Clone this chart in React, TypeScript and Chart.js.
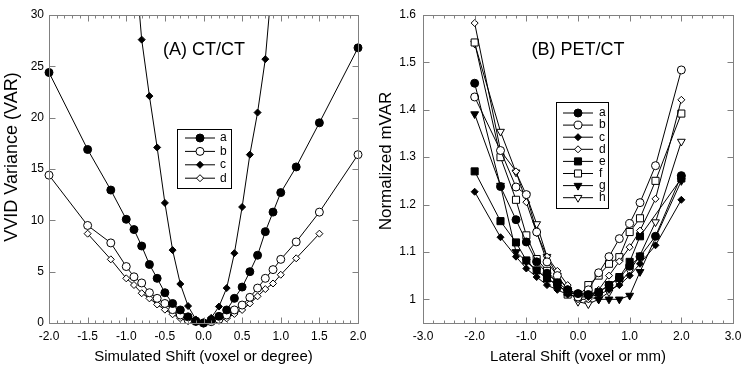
import React, { useEffect, useRef } from 'react';
import { Chart, registerables } from 'chart.js';
import { drawPoint } from 'chart.js/helpers';

Chart.register(...registerables);

const FONT = "'Liberation Sans', Arial, Helvetica, sans-serif";
const FRAME = '#808080';

// ---------- Panel A : CT/CT ----------
const A_X_TICKS = [-2, -1.5, -1, -0.5, 0, 0.5, 1, 1.5, 2];
const A_X_LABELS = ['-2.0', '-1.5', '-1.0', '-0.5', '0.0', '0.5', '1.0', '1.5', '2.0'];
const A_Y_TICKS = [0, 5, 10, 15, 20, 25, 30];
const A_Y_LABELS = ['0', '5', '10', '15', '20', '25', '30'];

const A_X_AB = [-2, -1.5, -1.2, -1, -0.9, -0.8, -0.7, -0.6, -0.5, -0.4, -0.3, -0.2, -0.1, 0, 0.1, 0.2, 0.3, 0.4, 0.5, 0.6, 0.7, 0.8, 0.9, 1, 1.2, 1.5, 2];
const A_A = [24.4, 16.9, 12.95, 10.1, 9.1, 7.5, 5.7, 4.35, 2.95, 1.9, 1.27, 0.6, 0.2, 0, 0.3, 0.65, 1.27, 2.4, 3.5, 5.0, 6.6, 8.9, 10.8, 12.7, 15.2, 19.5, 26.8];
const A_B = [14.4, 9.5, 7.8, 5.5, 4.5, 3.9, 2.95, 2.4, 1.9, 1.3, 0.78, 0.3, 0.15, 0, 0.13, 0.35, 0.78, 1.27, 1.75, 2.5, 3.4, 4.35, 5.2, 6.2, 7.9, 10.8, 16.4];
const A_X_C = [-0.9, -0.8, -0.7, -0.6, -0.5, -0.4, -0.3, -0.2, -0.1, 0, 0.1, 0.2, 0.3, 0.4, 0.5, 0.6, 0.7, 0.8, 0.9];
const A_C = [36.5, 27.6, 22.1, 17.1, 11.7, 7.1, 3.8, 1.65, 0.35, 0, 0.5, 1.6, 3.4, 6.8, 11.3, 16.4, 20.5, 25.7, 34.3];
const A_X_D = [-1.5, -1.2, -1, -0.9, -0.8, -0.7, -0.6, -0.5, -0.4, -0.3, -0.2, -0.1, 0, 0.1, 0.2, 0.3, 0.4, 0.5, 0.6, 0.7, 0.8, 0.9, 1, 1.2, 1.5];
const A_D = [8.7, 6.2, 4.35, 3.7, 2.9, 2.4, 1.8, 1.3, 0.85, 0.45, 0.2, 0.08, 0, 0.08, 0.22, 0.45, 0.88, 1.27, 1.9, 2.6, 3.3, 3.85, 4.7, 6.3, 8.7];

// ---------- Panel B : PET/CT ----------
const B_X_TICKS = [-3, -2, -1, 0, 1, 2, 3];
const B_X_LABELS = ['-3.0', '-2.0', '-1.0', '0.0', '1.0', '2.0', '3.0'];
const B_Y_TICKS = [1, 1.1, 1.2, 1.3, 1.4, 1.5, 1.6];
const B_Y_LABELS = ['1', '1.1', '1.2', '1.3', '1.4', '1.5', '1.6'];

const B_X = [-2, -1.5, -1.2, -1, -0.8, -0.6, -0.4, -0.2, 0, 0.2, 0.4, 0.6, 0.8, 1, 1.2, 1.5, 2];
const B_A = [1.456, 1.238, 1.168, 1.121, 1.079, 1.055, 1.035, 1.02, 1.012, 1.01, 1.015, 1.03, 1.045, 1.07, 1.09, 1.133, 1.261];
const B_B = [1.427, 1.314, 1.237, 1.221, 1.142, 1.079, 1.05, 1.02, 1.005, 1.02, 1.056, 1.09, 1.128, 1.16, 1.204, 1.282, 1.484];
const B_C = [1.227, 1.131, 1.09, 1.065, 1.047, 1.03, 1.02, 1.01, 1.005, 1.005, 1.01, 1.02, 1.03, 1.05, 1.075, 1.114, 1.21];
const B_D = [1.583, 1.314, 1.27, 1.205, 1.14, 1.09, 1.06, 1.03, 1.0, 1.0, 1.02, 1.05, 1.08, 1.11, 1.145, 1.212, 1.421];
const B_E = [1.27, 1.165, 1.12, 1.082, 1.061, 1.044, 1.03, 1.015, 1.01, 1.012, 1.015, 1.03, 1.047, 1.079, 1.133, null, 1.255];
const B_F = [1.542, 1.30, 1.21, 1.135, 1.085, 1.06, 1.035, 1.01, 1.005, 1.03, 1.05, 1.075, 1.089, 1.142, 1.171, 1.25, 1.392];
const B_G = [1.391, 1.24, 1.10, 1.08, 1.06, 1.045, 1.03, 1.015, 1.01, 1.005, 1.0, 1.0, 1.0, 1.008, 1.058, null, 1.25];
const B_H = [1.54, 1.354, 1.268, 1.22, 1.159, 1.09, 1.05, 1.02, 0.995, 0.99, 1.0, 1.015, 1.033, 1.06, 1.093, 1.163, 1.333];

type Series = {
  label: string;
  xs: number[];
  ys: (number | null)[];
  style: string;
  radius: number;
  filled: boolean;
  rotation?: number;
};

type PanelSpec = {
  xMin: number; xMax: number; yMin: number; yMax: number;
  xTicks: number[]; xLabels: string[]; yTicks: number[]; yLabels: string[];
  xMinorStep: number | null;
  xTitle: string; yTitle: string; panelTitle: string; titleX: number; titleY: number;
  yTitleX: number; yTitleY: number; yTitleSize: number;
  yAxisWidth: number; xAxisHeight: number; padRight: number; padTop: number;
  yTickPad: number; xTickPad: number; xTitlePad: number;
  series: Series[];
  legend: { box: [number, number, number, number]; y0: number; dy: number; x1: number; x2: number; xm: number; xt: number };
};

const SPEC_A: PanelSpec = {
  xMin: -2, xMax: 2, yMin: 0, yMax: 30,
  xTicks: A_X_TICKS, xLabels: A_X_LABELS, yTicks: A_Y_TICKS, yLabels: A_Y_LABELS,
  xMinorStep: 0.1,
  xTitle: 'Simulated Shift (voxel or degree)', yTitle: 'VVID Variance (VAR)',
  panelTitle: '(A) CT/CT', titleX: 204, titleY: 50,
  yTitleX: 12, yTitleY: 157, yTitleSize: 18,
  yAxisWidth: 49, xAxisHeight: 52, padRight: 17, padTop: 15,
  yTickPad: 5, xTickPad: 6, xTitlePad: 9,
  series: [
    { label: 'a', xs: A_X_AB, ys: A_A, style: 'circle', radius: 4, filled: true },
    { label: 'b', xs: A_X_AB, ys: A_B, style: 'circle', radius: 4, filled: false },
    { label: 'c', xs: A_X_C, ys: A_C, style: 'rectRot', radius: 3.5, filled: true },
    { label: 'd', xs: A_X_D, ys: A_D, style: 'rectRot', radius: 3.5, filled: false },
  ],
  legend: { box: [177, 129, 231, 188], y0: 138, dy: 13.4, x1: 185, x2: 215, xm: 200, xt: 220 },
};

const SPEC_B: PanelSpec = {
  xMin: -3, xMax: 3, yMin: 0.95, yMax: 1.6,
  xTicks: B_X_TICKS, xLabels: B_X_LABELS, yTicks: B_Y_TICKS, yLabels: B_Y_LABELS,
  xMinorStep: 0.2,
  xTitle: 'Lateral Shift (voxel or mm)', yTitle: 'Normalized mVAR',
  panelTitle: '(B) PET/CT', titleX: 203, titleY: 50,
  yTitleX: 11, yTitleY: 161, yTitleSize: 17,
  yAxisWidth: 48, xAxisHeight: 52, padRight: 17, padTop: 15,
  yTickPad: 7, xTickPad: 6, xTitlePad: 9,
  series: [
    { label: 'a', xs: B_X, ys: B_A, style: 'circle', radius: 4, filled: true },
    { label: 'b', xs: B_X, ys: B_B, style: 'circle', radius: 4, filled: false },
    { label: 'c', xs: B_X, ys: B_C, style: 'rectRot', radius: 3.5, filled: true },
    { label: 'd', xs: B_X, ys: B_D, style: 'rectRot', radius: 3.5, filled: false },
    { label: 'e', xs: B_X, ys: B_E, style: 'rect', radius: 5, filled: true },
    { label: 'f', xs: B_X, ys: B_F, style: 'rect', radius: 5, filled: false },
    { label: 'g', xs: B_X, ys: B_G, style: 'triangle', radius: 4.5, filled: true, rotation: 180 },
    { label: 'h', xs: B_X, ys: B_H, style: 'triangle', radius: 4.5, filled: false, rotation: 180 },
  ],
  legend: { box: [181, 102, 233, 208], y0: 113, dy: 12.1, x1: 188, x2: 218, xm: 203, xt: 224 },
};

function decorPlugin(spec: PanelSpec) {
  return {
    id: 'decor',
    afterDraw(chart: any) {
      const { ctx, chartArea } = chart;
      const xs = chart.scales.x;
      const ys = chart.scales.y;
      const L = Math.round(chartArea.left) + 0.5;
      const R = Math.round(chartArea.right) + 0.5;
      const T = Math.round(chartArea.top) + 0.5;
      const B = Math.round(chartArea.bottom) + 0.5;
      ctx.save();
      ctx.strokeStyle = FRAME;
      ctx.lineWidth = 1;
      ctx.strokeRect(L, T, R - L, B - T);
      ctx.beginPath();
      const MAJ = 6;
      const MIN = 3;
      for (const v of spec.xTicks) {
        const p = Math.round(xs.getPixelForValue(v)) + 0.5;
        ctx.moveTo(p, B); ctx.lineTo(p, B - MAJ);
        ctx.moveTo(p, T); ctx.lineTo(p, T + MAJ);
      }
      if (spec.xMinorStep) {
        const n = Math.round((spec.xMax - spec.xMin) / spec.xMinorStep);
        for (let i = 1; i < n; i++) {
          const v = spec.xMin + i * spec.xMinorStep;
          const p = Math.round(xs.getPixelForValue(v)) + 0.5;
          ctx.moveTo(p, B); ctx.lineTo(p, B - MIN);
          ctx.moveTo(p, T); ctx.lineTo(p, T + MIN);
        }
      }
      for (const v of spec.yTicks) {
        const p = Math.round(ys.getPixelForValue(v)) + 0.5;
        ctx.moveTo(L, p); ctx.lineTo(L + MAJ, p);
        ctx.moveTo(R, p); ctx.lineTo(R - MAJ, p);
      }
      ctx.stroke();

      // y-axis title
      ctx.fillStyle = '#000';
      ctx.font = `${spec.yTitleSize}px ${FONT}`;
      ctx.textAlign = 'center';
      ctx.textBaseline = 'middle';
      ctx.save();
      ctx.translate(spec.yTitleX, spec.yTitleY);
      ctx.rotate(-Math.PI / 2);
      ctx.fillText(spec.yTitle, 0, 0);
      ctx.restore();

      // panel title
      ctx.font = `18px ${FONT}`;
      ctx.fillText(spec.panelTitle, spec.titleX, spec.titleY);

      // legend
      const lg = spec.legend;
      const [bl, bt, br, bb] = lg.box;
      ctx.fillStyle = '#fff';
      ctx.fillRect(bl, bt, br - bl, bb - bt);
      ctx.strokeStyle = '#000';
      ctx.lineWidth = 1;
      ctx.strokeRect(bl + 0.5, bt + 0.5, br - bl, bb - bt);
      ctx.font = `12px ${FONT}`;
      ctx.textAlign = 'left';
      ctx.textBaseline = 'middle';
      spec.series.forEach((s, i) => {
        const y = lg.y0 + i * lg.dy;
        ctx.strokeStyle = '#000';
        ctx.lineWidth = 1;
        ctx.beginPath();
        ctx.moveTo(lg.x1, y);
        ctx.lineTo(lg.x2, y);
        ctx.stroke();
        ctx.fillStyle = s.filled ? '#000' : '#fff';
        ctx.strokeStyle = '#000';
        drawPoint(ctx, { pointStyle: s.style, rotation: s.rotation || 0, radius: s.radius, borderWidth: 1 } as any, lg.xm, y);
        ctx.fillStyle = '#000';
        ctx.fillText(s.label, lg.xt, y);
      });
      ctx.restore();
    },
  };
}

function buildConfig(spec: PanelSpec): any {
  const datasets = spec.series.map((s) => ({
    label: s.label,
    data: s.xs.map((x, i) => ({ x, y: s.ys[i] })).filter((p) => p.y !== null),
    showLine: true,
    borderColor: '#000',
    borderWidth: 1,
    pointStyle: s.style,
    pointRadius: s.radius,
    pointHoverRadius: s.radius,
    pointRotation: s.rotation || 0,
    pointBackgroundColor: s.filled ? '#000' : '#fff',
    pointBorderColor: '#000',
    pointBorderWidth: 1,
    tension: 0,
    clip: { left: 10, right: 10, top: 0, bottom: 10 },
  }));
  const tickFont = { family: FONT, size: 12 };
  return {
    type: 'scatter',
    data: { datasets },
    options: {
      responsive: false,
      animation: false,
      events: [],
      layout: { padding: { left: 0, top: spec.padTop, right: spec.padRight, bottom: 0 } },
      plugins: { legend: { display: false }, tooltip: { enabled: false } },
      scales: {
        x: {
          type: 'linear',
          min: spec.xMin,
          max: spec.xMax,
          afterBuildTicks: (axis: any) => { axis.ticks = spec.xTicks.map((v) => ({ value: v })); },
          afterFit: (axis: any) => { axis.height = spec.xAxisHeight; },
          ticks: {
            callback: (_v: any, i: number) => spec.xLabels[i],
            color: '#000', font: tickFont, padding: spec.xTickPad,
            maxRotation: 0, minRotation: 0, autoSkip: false,
          },
          grid: { display: false, drawTicks: false },
          border: { display: false },
          title: {
            display: true, text: spec.xTitle, color: '#000',
            font: { family: FONT, size: 15 }, padding: { top: 0, bottom: spec.xTitlePad },
          },
        },
        y: {
          type: 'linear',
          min: spec.yMin,
          max: spec.yMax,
          afterBuildTicks: (axis: any) => { axis.ticks = spec.yTicks.map((v) => ({ value: v })); },
          afterFit: (axis: any) => { axis.width = spec.yAxisWidth; },
          ticks: {
            callback: (_v: any, i: number) => spec.yLabels[i],
            color: '#000', font: tickFont, padding: spec.yTickPad, autoSkip: false,
          },
          grid: { display: false, drawTicks: false },
          border: { display: false },
          title: { display: false },
        },
      },
    },
    plugins: [decorPlugin(spec)],
  };
}

function Panel({ spec, left }: { spec: PanelSpec; left: number }) {
  const ref = useRef<HTMLCanvasElement>(null);
  useEffect(() => {
    if (!ref.current) return;
    const chart = new Chart(ref.current, buildConfig(spec));
    return () => chart.destroy();
  }, [spec]);
  return (
    <canvas
      ref={ref}
      width={375}
      height={375}
      style={{ position: 'absolute', left, top: 0, width: 375, height: 375 }}
    />
  );
}

export default function App() {
  return (
    <div style={{ position: 'absolute', left: 0, top: 0, width: 750, height: 375, background: '#fff' }}>
      <Panel spec={SPEC_A} left={0} />
      <Panel spec={SPEC_B} left={375} />
    </div>
  );
}
